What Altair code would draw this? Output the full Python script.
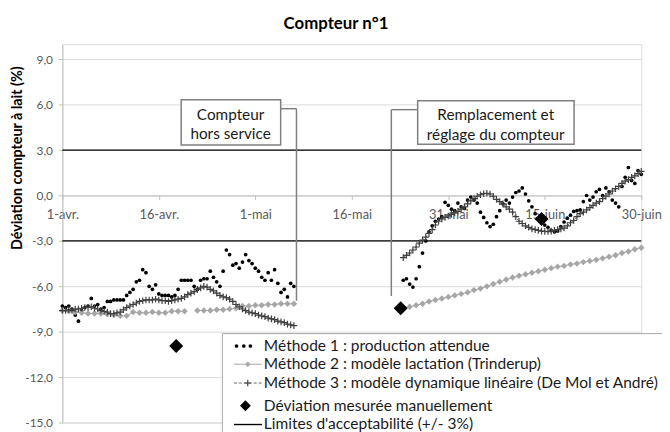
import altair as alt
import pandas as pd
import numpy as np

# ---------------- data ----------------
series_names = [
    "Méthode 1 : production attendue",
    "Méthode 2 : modèle lactation (Trinderup)",
    "Méthode 3 : modèle dynamique linéaire (De Mol et André)",
    "Déviation mesurée manuellement",
    "Limites d'acceptabilité (+/- 3%)",
]
tick_days = [0, 15, 30, 45, 60, 75, 90]
tick_labels = ["1-avr.", "16-avr.", "1-mai", "16-mai", "31-mai", "15-juin", "30-juin"]
y_ticks = [-15, -12, -9, -6, -3, 0, 3, 6, 9]

# Méthode 1 (two readings a day), before and after the meter outage
m1_days_a = np.arange(0, 36.01, 0.5)
m1_a = [-7.3, -7.4, -7.3, -7.5, -7.9, -8.3, -7.6, -7.4, -7.3, -6.8,
        -7.3, -7.2, -7.5, -7.4, -7.0, -7.0, -6.9, -6.9, -6.9, -6.9,
        -6.6, -6.4, -6.2, -5.7, -5.6, -4.9, -5.1, -6.0, -6.2, -5.9,
        -6.5, -6.6, -6.6, -6.6, -6.7, -6.6, -6.2, -5.6, -5.6, -5.6,
        -5.6, -6.0, -6.2, -5.6, -5.5, -5.5, -5.0, -5.4, -5.7, -6.0,
        -5.0, -3.6, -3.9, -4.6, -4.5, -4.8, -4.4, -3.9, -4.3, -4.5,
        -4.8, -5.0, -5.4, -5.6, -5.1, -5.6, -4.9, -5.8, -6.4, -6.2,
        -6.7, -5.8, -6.0]
m1_days_b = np.arange(53, 90.01, 0.5)
m1_b = [-5.6, -5.5, -5.85, -6.05, -5.5, -4.7, -3.8, -3.0, -2.4, -2.0,
        -1.7, -1.55, -1.4, -0.45, -0.65, -0.9, -1.0, -0.5, -0.75, -0.85,
        -0.3, -0.1, -0.3, -0.5, -1.1, -1.45, -1.8, -2.05, -1.9, -1.4,
        -1.0, -0.55, -0.3, -0.5, -0.1, 0.2, 0.3, 0.5, 0.1, -0.35,
        -0.75, -1.2, -1.5, -1.7, -1.95, -2.1, -2.3, -2.4, -2.35, -2.05,
        -1.75, -1.5, -1.3, -1.05, -1.0, -0.95, -0.4, 0.0, -0.3, -0.1,
        0.25, 0.4, 0.0, 0.5, 0.25, -0.3, -0.5, -0.75, 0.6, 1.2,
        1.85, 1.0, 0.8, 1.65, 1.4]

# Méthode 2 (daily)
m2_days_a1 = list(range(0, 20))
m2_a1 = [-7.6, -7.65, -7.7, -7.75, -7.8, -7.8, -7.8, -7.85, -7.9, -7.95,
         -7.95, -7.7, -7.75, -7.75, -7.7, -7.75, -7.75, -7.65, -7.65, -7.65]
m2_days_a2 = list(range(21, 37))
m2_a2 = [-7.6, -7.6, -7.6, -7.55, -7.55, -7.5, -7.45, -7.3, -7.3, -7.25,
         -7.25, -7.2, -7.2, -7.15, -7.15, -7.15]
m2_days_b = list(range(54, 91))
m2_b = [-7.35, -7.25, -7.15, -7.0, -6.9, -6.8, -6.7, -6.6, -6.5, -6.4,
        -6.25, -6.15, -6.0, -5.85, -5.7, -5.55, -5.42, -5.3, -5.2, -5.1,
        -5.0, -4.9, -4.8, -4.7, -4.65, -4.55, -4.5, -4.4, -4.33, -4.25,
        -4.15, -4.05, -3.95, -3.8, -3.7, -3.55, -3.45]

# Méthode 3 (two readings a day)
m3_days_a = np.arange(0, 36.01, 0.5)
m3_a = [-7.6, -7.6, -7.55, -7.6, -7.5, -7.5, -7.45, -7.4, -7.4, -7.35,
        -7.45, -7.5, -7.6, -7.65, -7.7, -7.8, -7.8, -7.75, -7.7, -7.55,
        -7.4, -7.3, -7.2, -7.1, -7.0, -6.95, -6.9, -6.9, -6.9, -6.85,
        -6.9, -6.95, -6.95, -7.0, -6.95, -6.9, -6.85, -6.8, -6.7, -6.55,
        -6.45, -6.35, -6.2, -6.1, -6.0, -6.05, -6.2, -6.3, -6.45, -6.6,
        -6.7, -6.75, -6.85, -7.0, -7.2, -7.35, -7.5, -7.6, -7.7, -7.75,
        -7.8, -7.9, -7.95, -8.0, -8.1, -8.15, -8.2, -8.3, -8.35, -8.4,
        -8.5, -8.55, -8.6]
m3_days_b = np.arange(53, 90.01, 0.5)
m3_b = [-4.1, -3.95, -3.8, -3.6, -3.4, -3.15, -2.95, -2.75, -2.5, -2.25,
        -1.95, -1.7, -1.55, -1.45, -1.35, -1.25, -1.15, -1.05, -0.9, -0.75,
        -0.55, -0.35, -0.2, -0.05, 0.05, 0.12, 0.15, 0.1, -0.05, -0.25,
        -0.4, -0.55, -0.75, -0.9, -1.1, -1.4, -1.7, -1.85, -2.0, -2.1,
        -2.2, -2.25, -2.3, -2.35, -2.37, -2.38, -2.35, -2.3, -2.25, -2.2,
        -2.15, -2.0, -1.8, -1.65, -1.4, -1.2, -1.1, -0.95, -0.8, -0.65,
        -0.5, -0.4, -0.2, -0.05, 0.1, 0.3, 0.45, 0.6, 0.8, 0.95,
        1.05, 1.2, 1.3, 1.45, 1.6]

manual_days = [17.7, 52.6, 74.5]
manual_vals = [-9.95, -7.45, -1.55]
limit_vals = [3.0, -3.0]

callout1 = ["Compteur", "hors service"]
callout2 = ["Remplacement et", "réglage du compteur"]
chart_title = "Compteur n°1"

# ---------------- frames ----------------
def frame(days, vals, seg):
    return pd.DataFrame({"day": list(days), "value": list(vals), "seg": seg})

df1 = pd.concat([frame(m1_days_a, m1_a, "a"), frame(m1_days_b, m1_b, "b")])
df2 = pd.concat([frame(m2_days_a1, m2_a1, "a1"), frame(m2_days_a2, m2_a2, "a2"),
                 frame(m2_days_b, m2_b, "b")])
df3 = pd.concat([frame(m3_days_a, m3_a, "a"), frame(m3_days_b, m3_b, "b")])
dfm = pd.DataFrame({"day": manual_days, "value": manual_vals})
dfl = pd.DataFrame({"value": limit_vals})
one = pd.DataFrame({"k": [0]})

FONT = "Lato"
label_map = "[" + ",".join("'%s'" % t for t in tick_labels) + "][indexof([" + \
    ",".join(str(d) for d in tick_days) + "], datum.value)]"

X = alt.X("day:Q", scale=alt.Scale(domain=[0, 90], nice=False, zero=False),
          axis=alt.Axis(values=tick_days, labelExpr=label_map, grid=False,
                        offset=-229.8, title=None, labelFlush=False,
                        labelOverlap=False, labelBound=False,
                        domainColor="#BFBFBF", tickColor="#BFBFBF", tickSize=4,
                        labelPadding=9, labelColor="#595959", labelFontSize=13,
                        labelFont=FONT))
Y = alt.Y("value:Q", scale=alt.Scale(domain=[-15, 10], nice=False, zero=False),
          axis=alt.Axis(values=y_ticks,
                        labelExpr="(datum.value < 0 ? '-' : '') + replace(format(abs(datum.value), '.1f'), '.', ',')",
                        grid=True, gridColor="#D9D9D9", domainColor="#BFBFBF",
                        tickColor="#BFBFBF", tickSize=4, labelPadding=6,
                        labelColor="#595959", labelFontSize=12, labelFont=FONT,
                        title="Déviation compteur à lait (%)", titleFont=FONT,
                        titleFontWeight="bold", titleFontSize=14.5, titleColor="black",
                        titleX=-45, titleY=115, titleAngle=270, titleAlign="center",
                        titleBaseline="middle"))

limits = alt.Chart(dfl).mark_rule(color="black", strokeWidth=1.4).encode(y=Y)
s1 = alt.Chart(df1).mark_circle(size=14, color="black", opacity=1).encode(x=X, y=Y)
s2_line = alt.Chart(df2).mark_line(color="#A6A6A6", strokeWidth=1).encode(x=X, y=Y, detail="seg:N")
s2_pts = alt.Chart(df2).mark_point(shape="diamond", filled=True, size=42, color="#A6A6A6",
                                    opacity=1).encode(x=X, y=Y)
PLUS = "M-1,0H1M0,-1V1"
s3_line = alt.Chart(df3).mark_line(color="#404040", strokeWidth=0.8, strokeDash=[3, 2]).encode(
    x=X, y=Y, detail="seg:N")
s3_pts = alt.Chart(df3).mark_point(shape=PLUS, filled=False, size=45, color="#404040",
                                    strokeWidth=1.2, opacity=1).encode(x=X, y=Y)
man = alt.Chart(dfm).mark_point(shape="diamond", filled=True, size=200, color="black",
                                 opacity=1).encode(x=X, y=Y)

layers = [limits, s1, s2_line, s2_pts, s3_line, s3_pts, man]

def rule(x1, y1, x2, y2, color="#7F7F7F", width=1.5, dash=None):
    kw = dict(color=color, strokeWidth=width)
    if dash:
        kw["strokeDash"] = dash
    return alt.Chart(one).mark_rule(**kw).encode(
        x=alt.value(x1), y=alt.value(y1), x2=alt.value(x2), y2=alt.value(y2))

def box(x1, y1, x2, y2, stroke="#7F7F7F", width=1.5):
    return alt.Chart(one).mark_rect(fill="white", stroke=stroke, strokeWidth=width).encode(
        x=alt.value(x1), y=alt.value(y1), x2=alt.value(x2), y2=alt.value(y2))

def text(t, x, y, size=14, align="center", weight="normal", color="#1A1A1A"):
    return alt.Chart(one).mark_text(text=t, font=FONT, fontSize=size, align=align,
                                    baseline="middle", fontWeight=weight, color=color).encode(
        x=alt.value(x), y=alt.value(y))

# callouts
layers += [
    rule(221, 65.3, 237, 65.3), rule(237, 65.3, 237, 259.7),
    box(120.3, 56.3, 221, 102),
    text(callout1[0], 170.3, 71.3, size=15.5), text(callout1[1], 170.3, 90.7, size=15.5),
    rule(333, 66.3, 359.7, 66.3), rule(333, 66.3, 333, 255),
    box(359.7, 57.3, 518, 101.3),
    text(callout2[0], 438.7, 72, size=15.5), text(callout2[1], 438.7, 92, size=15.5),
]

# legend
ry = [305.5, 324, 343, 366, 385]
lx1, lx2, lxc, tx = 173.7, 202, 187.7, 204
legend = [box(162, 293, 640, 410, stroke="#A6A6A6", width=1)]
for xx in [176.3, 183.7, 190.3]:
    legend.append(alt.Chart(one).mark_circle(size=14, color="black", opacity=1).encode(
        x=alt.value(xx), y=alt.value(ry[0])))
legend.append(rule(lx1, ry[1], lx2, ry[1], color="#A6A6A6", width=1))
legend.append(alt.Chart(one).mark_point(shape="diamond", filled=True, size=30, color="#A6A6A6",
                                        opacity=1).encode(x=alt.value(lxc), y=alt.value(ry[1])))
legend.append(rule(lx1, ry[2], lx2, ry[2], color="#404040", width=0.8, dash=[3, 2]))
legend.append(alt.Chart(one).mark_point(shape=PLUS, filled=False, size=45, color="#404040",
                                        strokeWidth=1.2, opacity=1).encode(
    x=alt.value(lxc), y=alt.value(ry[2])))
legend.append(alt.Chart(one).mark_point(shape="diamond", filled=True, size=120, color="black",
                                        opacity=1).encode(x=alt.value(185.3), y=alt.value(ry[3])))
legend.append(rule(lx1, ry[4], lx2, ry[4], color="black", width=1.4))
for name, yy in zip(series_names, ry):
    legend.append(text(name, tx, yy, size=15.7, align="left"))
layers += legend

layers.append(text(chart_title, 277, -20, size=17, weight="bold", color="black"))

chart = alt.layer(*layers).properties(
    width=586, height=383,
    padding={"left": 55, "top": 34, "right": 21, "bottom": 10},
    autosize=alt.AutoSizeParams(type="none"),
).configure_view(stroke=None).configure(font=FONT)

chart.save("out.html", embed_options={"renderer": "svg", "actions": False})
